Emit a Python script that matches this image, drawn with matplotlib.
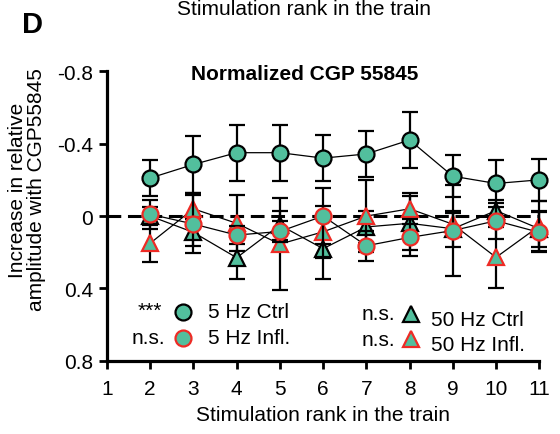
import matplotlib
matplotlib.use("Agg")
import matplotlib.pyplot as plt
import numpy as np

plt.rcParams['font.family'] = ['Liberation Sans', 'DejaVu Sans']

# Data (y axis is inverted: negative = increase)
rank = [2, 3, 4, 5, 6, 7, 8, 9, 10, 11]

ctrl_5hz = [-0.21, -0.285, -0.35, -0.35, -0.32, -0.343, -0.42, -0.22, -0.18, -0.20]
ctrl_5hz_err = [0.10, 0.155, 0.155, 0.155, 0.125, 0.125, 0.155, 0.115, 0.13, 0.115]

infl_5hz = [-0.01, 0.044, 0.105, 0.085, 0.0, 0.164, 0.118, 0.08, 0.026, 0.09]
infl_5hz_err = [0.08, 0.16, 0.05, 0.06, 0.155, 0.083, 0.10, 0.25, 0.10, 0.11]

ctrl_50hz = [0.0, 0.09, 0.23, 0.05, 0.18, 0.06, 0.04, 0.07, -0.03, 0.07]
ctrl_50hz_err = [0.05, 0.075, 0.115, 0.08, 0.165, 0.09, 0.15, 0.10, 0.06, 0.10]

infl_50hz = [0.15, -0.04, 0.04, 0.155, 0.087, 0.0, -0.04, 0.045, 0.228, 0.055]
infl_50hz_err = [0.105, 0.09, 0.155, 0.255, 0.145, 0.20, 0.085, 0.06, 0.17, 0.14]

x_ticks = [1, 2, 3, 4, 5, 6, 7, 8, 9, 10, 11]
y_ticks = [-0.8, -0.4, 0, 0.4, 0.8]
y_tick_labels = ["-0.8", "-0.4", "0", "0.4", "0.8"]

green = "#52bf9d"
red = "#ee2b25"
fs = 15

fig = plt.figure(figsize=(5.6, 4.35), dpi=100)
ax = fig.add_axes([0.191, 0.168, 0.772, 0.666])

ax.axhline(0, color="black", lw=2.2, ls=(0, (4.5, 2.2)), zorder=1)

series = [
	(ctrl_50hz, ctrl_50hz_err, "^", "black"),
	(infl_50hz, infl_50hz_err, "^", red),
	(infl_5hz, infl_5hz_err, "o", red),
	(ctrl_5hz, ctrl_5hz_err, "o", "black"),
]
z = 2
for vals, err, mk, ec in series:
	ax.errorbar(rank, vals, yerr=err, fmt="none", ecolor="black",
				elinewidth=1.6, capsize=6, capthick=1.6, zorder=z, clip_on=False)
	ax.plot(rank, vals, "-", color="black", lw=0.9, zorder=z + 0.5, clip_on=False)
	ax.plot(rank, vals, mk, ms=11.5 if mk == "o" else 11, mfc=green, mec=ec,
			mew=1.6, zorder=z + 1, clip_on=False, ls="none")
	z += 2

ax.set_xlim(1, 11)
ax.set_ylim(0.8, -0.8)
ax.set_xticks(x_ticks)
ax.set_yticks(y_ticks)
ax.set_yticklabels(y_tick_labels)
ax.tick_params(labelsize=fs, width=2, length=6, direction="out")
ax.tick_params(axis="x", pad=7)
ax.tick_params(axis="y", pad=4)
for s in ["top", "right"]:
	ax.spines[s].set_visible(False)
for s in ["left", "bottom"]:
	ax.spines[s].set_linewidth(2.3)

ax.set_xlabel("Stimulation rank in the train", fontsize=fs, labelpad=5)
fig.text(305 / 560, 1 - 80 / 435, "Normalized CGP 55845", fontsize=15,
		 fontweight="bold", ha="center", va="baseline")

fig.text(0.048, 1 - 190 / 435, "Increase in relative\namplitude with CGP55845",
		 rotation=90, ha="center", va="center", fontsize=fs, linespacing=1.0)

fig.text(304 / 560, 1 - 15 / 435, "Stimulation rank in the train",
		 ha="center", va="baseline", fontsize=fs)
fig.text(22 / 560, 1 - 33 / 435, "D", fontsize=21, fontweight="bold", va="baseline")

# Legend, drawn by hand
leg_items = [
	(183, 313, "o", "black", "5 Hz Ctrl", "***", 162, 25),
	(183, 339, "o", red, "5 Hz Infl.", "n.s.", 165, 25),
	(411, 315, "^", "black", "50 Hz Ctrl", "n.s.", 395, 20),
	(411, 340, "^", red, "50 Hz Infl.", "n.s.", 395, 20),
]
for px, py, mk, ec, lab, sig, sx, off in leg_items:
	fx, fy = px / 560, 1 - py / 435
	fig.lines.append(plt.Line2D([fx], [fy], marker=mk, ms=11.5 if mk == "o" else 11,
								mfc=green, mec=ec, mew=1.6, ls="none",
								transform=fig.transFigure))
	fig.text(fx + off / 560, fy - (0.012 if mk == "^" else 0), lab, fontsize=fs,
			 ha="left", va="center")
	fig.text(sx / 560, fy + (0.004 if sig == "***" else 0), sig, fontsize=fs,
			 ha="right", va="center")

fig.savefig("out.png", dpi=100)
